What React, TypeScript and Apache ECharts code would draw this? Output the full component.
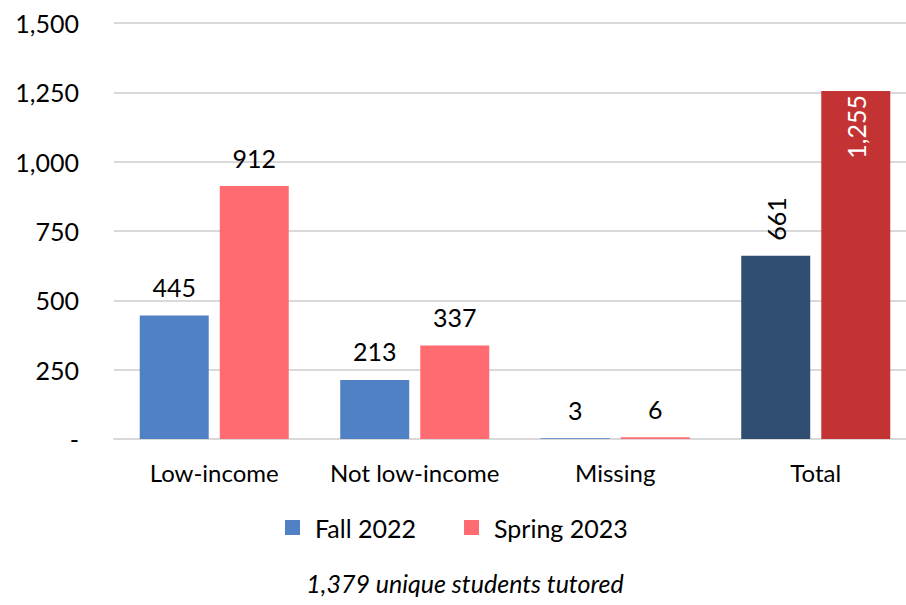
import React, { useEffect, useRef } from "react";
import * as echarts from "echarts";

const categories = ["Low-income", "Not low-income", "Missing", "Total"];
const fall2022 = [445, 213, 3, 661];
const spring2023 = [912, 337, 6, 1255];
const yTicks = { min: 0, max: 1500, interval: 250 };
const subtitle = "1,379 unique students tutored";

const FONT = "Lato, 'DejaVu Sans', sans-serif";
const fmt = (v: number) => v.toLocaleString("en-US");

export default function App() {
  const ref = useRef<HTMLDivElement>(null);
  useEffect(() => {
    if (!ref.current) return;
    const chart = echarts.init(ref.current, null, { renderer: "svg" });
    const baseLabel = {
      show: true,
      position: "top",
      distance: 16,
      color: "#000",
      fontSize: 25,
      fontFamily: FONT,
      formatter: (p: any) => fmt(p.value),
    };
    const fallData = fall2022.map((v, i) =>
      i === 3
        ? {
            value: v,
            itemStyle: { color: "#2F4E71" },
            label: { rotate: 90, position: "top", align: "left", verticalAlign: "middle", distance: 15 },
          }
        : v
    );
    const springData = spring2023.map((v, i) =>
      i === 3
        ? {
            value: v,
            itemStyle: { color: "#C43333" },
            label: {
              rotate: 90,
              position: "insideTop",
              align: "right",
              verticalAlign: "middle",
              distance: 4,
              color: "#fff",
            },
          }
        : v
    );
    chart.setOption({
      animation: false,
      grid: { left: 114, right: 0, top: 23, bottom: 166, containLabel: false },
      legend: {
        top: 515,
        left: 285,
        padding: 0,
        itemWidth: 15,
        itemHeight: 15,
        itemGap: 48,
        icon: "rect",
        textStyle: { fontSize: 25, fontFamily: FONT, color: "#000", padding: [0, 0, 0, 10] },
        data: ["Fall 2022", "Spring 2023"],
      },
      graphic: [
        {
          type: "text",
          x: 465,
          y: 583,
          style: {
            text: subtitle,
            fontSize: 25,
            fontStyle: "italic",
            fontFamily: FONT,
            fill: "#000",
            align: "center",
            verticalAlign: "middle",
          },
        },
      ],
      xAxis: {
        type: "category",
        data: categories,
        axisTick: { show: false },
        axisLine: { lineStyle: { color: "#d9d9d9", width: 2 } },
        axisLabel: { color: "#000", fontSize: 24, fontFamily: FONT, margin: 21, interval: 0 },
      },
      yAxis: {
        type: "value",
        min: yTicks.min,
        max: yTicks.max,
        interval: yTicks.interval,
        axisLine: { show: false },
        axisTick: { show: false },
        splitLine: { lineStyle: { color: "#d9d9d9", width: 2 } },
        axisLabel: {
          color: "#000",
          fontSize: 25,
          fontFamily: FONT,
          margin: 35,
          formatter: (v: number) => (v === 0 ? "-" : fmt(v)),
        },
      },
      series: [
        {
          name: "Fall 2022",
          type: "bar",
          data: fallData,
          itemStyle: { color: "#4F81C4" },
          barWidth: 69,
          barGap: "16%",
          label: baseLabel,
        },
        {
          name: "Spring 2023",
          type: "bar",
          data: springData,
          itemStyle: { color: "#FF6B70" },
          barWidth: 69,
          barGap: "16%",
          label: baseLabel,
        },
      ],
    });
    return () => chart.dispose();
  }, []);
  return (
    <div style={{ position: "absolute", left: 0, top: 0, width: 906, height: 605, overflow: "hidden" }}>
      <div ref={ref} style={{ width: 916, height: 605 }} />
    </div>
  );
}
